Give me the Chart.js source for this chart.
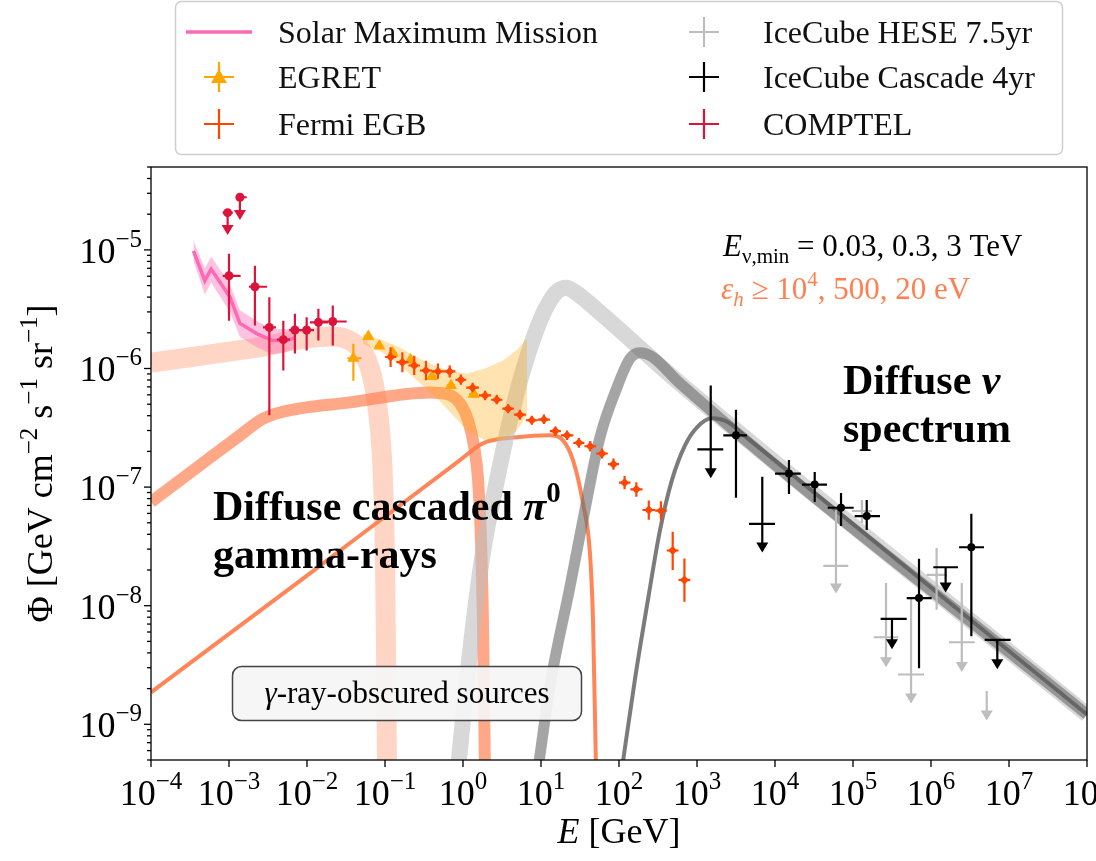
<!DOCTYPE html>
<html>
<head>
<meta charset="utf-8">
<script src="https://cdn.jsdelivr.net/npm/chart.js@4.4.1/dist/chart.umd.min.js"></script>
<style>
  body { margin: 0; background: #fff; }
</style>
</head>
<body>
<canvas id="chart" width="1096" height="861"></canvas>
<script>
// axis ranges + ticks
const xMin = 1e-4, xMax = 1e8, yMin = 5e-10, yMax = 5e-5;
const xTickExps = [-4, -3, -2, -1, 0, 1, 2, 3, 4, 5, 6, 7, 8];
const yTickExps = [-9, -8, -7, -6, -5];

// Solar Maximum Mission (line + band)
const smmE    = [3.5e-4, 4.9e-4, 5.9e-4, 1.03e-3, 1.38e-3, 2.3e-3, 3.6e-3, 5.5e-3, 7.0e-3];
const smmFlux = [9.8e-6, 5.5e-6, 6.9e-6, 4.0e-6, 2.4e-6, 1.96e-6, 1.72e-6, 1.72e-6, 1.82e-6];
const smmHi   = [1.2e-5, 7.0e-6, 8.8e-6, 5.1e-6, 3.1e-6, 2.5e-6, 2.15e-6, 2.15e-6, 2.2e-6];
const smmLo   = [8.1e-6, 4.2e-6, 5.3e-6, 3.0e-6, 1.85e-6, 1.5e-6, 1.32e-6, 1.38e-6, 1.48e-6];

// COMPTEL
const compE      = [9.6e-4, 1.38e-3, 1.0e-3, 2.15e-3, 3.29e-3, 4.97e-3, 7.0e-3, 9.9e-3, 1.40e-2, 2.14e-2];
const compFlux   = [2.06e-5, 2.78e-5, 6.05e-6, 4.89e-6, 2.22e-6, 1.75e-6, 2.11e-6, 2.11e-6, 2.45e-6, 2.49e-6];
const compELo    = [8.3e-4, 1.23e-3, 8.3e-4, 1.8e-3, 2.73e-3, 4.1e-3, 5.9e-3, 8.1e-3, 1.09e-2, 1.33e-2];
const compEHi    = [1.12e-3, 1.69e-3, 1.41e-3, 3.07e-3, 4.0e-3, 6.05e-3, 8.4e-3, 1.23e-2, 1.86e-2, 3.23e-2];
const compFluxLo = [1.36e-5, 1.82e-5, 2.53e-6, 2.30e-6, 4.03e-7, 9.6e-7, 1.34e-6, 1.42e-6, 1.72e-6, 1.56e-6];
const compFluxHi = [2.06e-5, 2.78e-5, 9.3e-6, 7.34e-6, 3.98e-6, 2.53e-6, 2.9e-6, 2.7e-6, 3.19e-6, 3.39e-6];
const compUL     = [1, 1, 0, 0, 0, 0, 0, 0, 0, 0];

// EGRET points + band
const egretE      = [3.93e-2, 6.11e-2, 8.46e-2, 0.126, 0.212, 0.401, 0.702, 1.38];
const egretFlux   = [1.22e-6, 1.86e-6, 1.55e-6, 1.35e-6, 1.18e-6, 8.57e-7, 7.2e-7, 6.08e-7];
const egretELo    = [3.3e-2, 5.4e-2, 7.5e-2, 0.112, 0.19, 0.36, 0.62, 1.2];
const egretEHi    = [5.0e-2, 6.9e-2, 9.5e-2, 0.142, 0.24, 0.45, 0.79, 1.55];
const egretFluxLo = [7.9e-7, 1.75e-6, 1.46e-6, 1.27e-6, 1.11e-6, 8.1e-7, 6.8e-7, 5.7e-7];
const egretFluxHi = [1.62e-6, 1.98e-6, 1.65e-6, 1.44e-6, 1.26e-6, 9.1e-7, 7.6e-7, 6.5e-7];
const egretBandE  = [5.2e-2, 9.42e-2, 0.156, 0.257, 0.464, 0.681, 1.12, 1.91, 3.26, 4.92, 6.62];
const egretBandHi = [1.97e-6, 1.72e-6, 1.50e-6, 1.24e-6, 1.04e-6, 9.62e-7, 9.08e-7, 1.0e-6, 1.17e-6, 1.44e-6, 1.79e-6];
const egretBandLo = [1.62e-6, 1.36e-6, 1.06e-6, 7.92e-7, 5.60e-7, 4.27e-7, 3.01e-7, 2.48e-7, 2.48e-7, 3.01e-7, 4.03e-7];

// Fermi EGB
const fermiE      = [0.118, 0.167, 0.237, 0.335, 0.477, 0.675, 0.94, 1.33, 1.92, 2.71, 3.79, 5.37, 7.63,
                     10.9, 15.3, 21.6, 30.6, 42.8, 60.6, 84.9, 118, 167, 241, 345, 488, 690];
const fermiELo    = [0.1, 0.14, 0.2, 0.28, 0.4, 0.57, 0.8, 1.1, 1.6, 2.3, 3.2, 4.5, 6.4,
                     9.1, 13, 18, 26, 36, 51, 72, 100, 140, 200, 290, 410, 580];
const fermiEHi    = [0.14, 0.2, 0.28, 0.4, 0.57, 0.8, 1.1, 1.6, 2.3, 3.2, 4.5, 6.4, 9.1,
                     13, 18, 26, 36, 51, 72, 100, 140, 200, 290, 410, 580, 820];
const fermiFlux   = [1.25e-6, 1.13e-6, 1.06e-6, 9.62e-7, 9.44e-7, 9.44e-7, 8.04e-7, 6.89e-7, 5.93e-7, 5.45e-7,
                     4.58e-7, 4.08e-7, 3.66e-7, 3.71e-7, 2.97e-7, 2.73e-7, 2.36e-7, 2.21e-7, 1.92e-7, 1.56e-7,
                     1.09e-7, 9.57e-8, 6.41e-8, 6.33e-8, 2.92e-8, 1.65e-8];
const fermiFluxHi = [1.51e-6, 1.37e-6, 1.28e-6, 1.16e-6, 1.10e-6, 1.06e-6, 8.9e-7, 7.6e-7, 6.5e-7, 6.0e-7,
                     5.0e-7, 4.5e-7, 4.0e-7, 4.1e-7, 3.25e-7, 3.0e-7, 2.6e-7, 2.45e-7, 2.12e-7, 1.74e-7,
                     1.24e-7, 1.1e-7, 7.7e-8, 7.6e-8, 4.2e-8, 2.5e-8];
const fermiFluxLo = [1.03e-6, 9.3e-7, 8.8e-7, 7.95e-7, 8.2e-7, 8.4e-7, 7.3e-7, 6.3e-7, 5.4e-7, 5.0e-7,
                     4.2e-7, 3.7e-7, 3.35e-7, 3.4e-7, 2.7e-7, 2.5e-7, 2.15e-7, 2.0e-7, 1.74e-7, 1.40e-7,
                     9.6e-8, 8.3e-8, 5.3e-8, 5.3e-8, 2.0e-8, 1.08e-8];

// IceCube Cascade 4yr
const cascE      = [1.50e3, 3.16e3, 6.87e3, 1.51e4, 3.23e4, 7.02e4, 1.50e5, 3.16e5, 7.02e5, 1.54e6, 3.29e6, 7.08e6];
const cascELo    = [1.01e3, 2.17e3, 4.64e3, 1.0e4, 2.22e4, 4.74e4, 1.05e5, 2.26e5, 4.88e5, 1.07e6, 2.29e6, 4.88e6];
const cascEHi    = [2.17e3, 4.38e3, 1.0e4, 2.14e4, 4.64e4, 1.02e5, 2.22e5, 4.88e5, 1.02e6, 2.22e6, 4.78e6, 1.05e7];
const cascFlux   = [2.08e-7, 2.73e-7, 4.89e-8, 1.30e-7, 1.05e-7, 6.70e-8, 5.70e-8, 7.73e-9, 1.16e-8, 2.11e-8, 3.11e-8, 5.15e-9];
const cascFluxHi = [7.2e-7, 4.50e-7, 1.22e-7, 1.69e-7, 1.34e-7, 8.91e-8, 7.78e-8, 7.73e-9, 2.49e-8, 2.11e-8, 5.97e-8, 5.15e-9];
const cascFluxLo = [1.21e-7, 8.13e-8, 2.86e-8, 8.73e-8, 7.48e-8, 4.70e-8, 4.35e-8, 4.38e-9, 2.97e-9, 1.32e-8, 5.52e-9, 2.97e-9];
const cascUL     = [1, 0, 1, 0, 0, 0, 0, 1, 0, 1, 0, 1];

// IceCube HESE 7.5yr
const heseE      = [6.05e4, 1.30e5, 2.65e5, 5.55e5, 1.18e6, 2.48e6, 5.18e6];
const heseELo    = [4.16e4, 9.7e4, 1.84e5, 3.78e5, 8.8e5, 1.70e6, 5.18e6];
const heseEHi    = [8.7e4, 1.75e5, 3.81e5, 8.13e5, 1.59e6, 3.63e6, 5.18e6];
const heseFlux   = [2.17e-8, 6.29e-8, 5.42e-9, 2.63e-9, 1.82e-8, 4.92e-9, 1.91e-9];
const heseFluxHi = [6.41e-8, 7.78e-8, 1.55e-8, 1.16e-8, 3.07e-8, 1.55e-8, 1.91e-9];
const heseFluxLo = [1.29e-8, 4.98e-8, 3.09e-9, 1.53e-9, 9.25e-9, 2.81e-9, 1.10e-9];
const heseUL     = [1, 0, 1, 1, 0, 1, 1];

// cascaded gamma-ray models (eps_h >= 1e4, 500, 20 eV)
const gammaAE    = [1e-4, 1.86e-3, 1.97e-2, 3.07e-2, 4.5e-2, 6.05e-2, 7.44e-2, 8.63e-2, 9.42e-2, 0.1, 0.103, 0.106];
const gammaAFlux = [1.12e-6, 1.47e-6, 1.86e-6, 1.79e-6, 1.53e-6, 1.12e-6, 6.53e-7, 3.01e-7, 1.15e-7, 2.44e-8, 4.27e-9, 4.19e-10];
const gammaBE    = [1e-4, 4.25e-4, 1.38e-3, 2.65e-3, 4.51e-3, 3.56e-2, 0.377, 0.643, 0.916, 1.16, 1.38, 1.56, 1.70, 1.80, 1.91];
const gammaBFlux = [7.48e-8, 1.53e-7, 2.73e-7, 3.73e-7, 4.26e-7, 5.18e-7, 6.28e-7, 6.05e-7, 5.08e-7, 3.66e-7, 2.25e-7, 1.15e-7, 3.59e-8, 7.62e-9, 4.19e-10];
const gammaCE    = [1e-4, 8.13e-3, 0.916, 1.80, 4.92, 13.0, 19.1, 25.7, 34.5, 42.4, 46.4, 50.7];
const gammaCFlux = [1.86e-9, 1.62e-8, 1.69e-7, 2.34e-7, 2.63e-7, 2.73e-7, 2.48e-7, 1.69e-7, 7.34e-8, 2.79e-8, 7.62e-9, 4.19e-10];

// neutrino models (E_nu,min = 0.03, 0.3, 3 TeV)
const nuAE    = [0.863, 1.23, 1.80, 2.73, 4.01, 5.88, 9.71, 13.0, 16.5, 20.9, 28.1, 57.1, 605, 1e8];
const nuAFlux = [4.19e-10, 4.03e-9, 2.79e-8, 1.15e-7, 3.66e-7, 9.62e-7, 2.53e-6, 3.72e-6, 4.52e-6, 4.80e-6, 4.35e-6, 2.96e-6, 7.48e-7, 1.21e-9];
const nuBE    = [9.17, 13.0, 23.5, 34.5, 57.0, 94.2, 138, 186, 265, 605, 1e8];
const nuBFlux = [4.19e-10, 2.09e-9, 1.44e-8, 5.28e-8, 2.63e-7, 6.92e-7, 1.21e-6, 1.36e-6, 1.26e-6, 7.48e-7, 1.21e-9];
const nuCE    = [109, 160, 235, 336, 478, 702, 1.0e3, 1.56e3, 2.5e3, 4.12e3, 1e8];
const nuCFlux = [4.19e-10, 2.39e-9, 1.12e-8, 4.35e-8, 1.15e-7, 2.25e-7, 3.19e-7, 3.80e-7, 3.52e-7, 2.69e-7, 1.21e-9];

const SERIF = '"Liberation Serif", "DejaVu Serif", serif';
const CORAL = '255,127,80';

function pts(xs, ys) {
  return xs.map((v, i) => ({ x: v, y: ys[i] }));
}

function curve(xs, ys, color, width, order) {
  return {
    type: 'line', data: pts(xs, ys), borderColor: color, borderWidth: width,
    pointRadius: 0, fill: false, cubicInterpolationMode: 'monotone', order: order
  };
}

// hideUL: no marker on upper-limit entries
function points(xs, ys, color, style, radius, err, order, hideUL) {
  return {
    type: 'scatter', data: pts(xs, ys), pointStyle: style,
    pointRadius: c => (hideUL && err.ul && err.ul[c.dataIndex]) ? 0 : radius,
    backgroundColor: color, borderColor: color, borderWidth: 0,
    err: err, errColor: color, order: order
  };
}

const datasets = [
  curve(gammaAE, gammaAFlux, 'rgba(' + CORAL + ',0.33)', 20, 20),
  curve(gammaBE, gammaBFlux, 'rgba(' + CORAL + ',0.68)', 12, 19),
  curve(gammaCE, gammaCFlux, 'rgba(' + CORAL + ',0.95)', 4, 18),
  curve(nuAE, nuAFlux, 'rgba(190,190,190,0.6)', 16, 17),
  curve(nuBE, nuBFlux, 'rgba(110,110,110,0.62)', 11, 16),
  curve(nuCE, nuCFlux, 'rgba(90,90,90,0.8)', 4, 15),
  // EGRET band
  { type: 'line', data: pts(egretBandE, egretBandHi), borderColor: 'transparent', pointRadius: 0, fill: false, order: 14 },
  { type: 'line', data: pts(egretBandE, egretBandLo), borderColor: 'transparent', pointRadius: 0,
    fill: '-1', backgroundColor: 'rgba(255,165,0,0.3)', order: 14 },
  // SMM band + line
  { type: 'line', data: pts(smmE, smmHi), borderColor: 'transparent', pointRadius: 0, fill: false, order: 13 },
  { type: 'line', data: pts(smmE, smmLo), borderColor: 'transparent', pointRadius: 0,
    fill: '-1', backgroundColor: 'rgba(255,105,180,0.4)', order: 13 },
  { type: 'line', data: pts(smmE, smmFlux), borderColor: '#ff69b4', borderWidth: 3.5, pointRadius: 0, fill: false, order: 12 },
  points(heseE, heseFlux, '#bdbdbd', 'circle', 0,
    { xLo: heseELo, xHi: heseEHi, yLo: heseFluxLo, yHi: heseFluxHi, ul: heseUL }, 6, true),
  points(compE, compFlux, '#dc143c', 'circle', 4.5,
    { xLo: compELo, xHi: compEHi, yLo: compFluxLo, yHi: compFluxHi, ul: compUL }, 5, false),
  points(egretE, egretFlux, '#ffa500', 'triangle', 7,
    { xLo: egretELo, xHi: egretEHi, yLo: egretFluxLo, yHi: egretFluxHi }, 4, true),
  points(fermiE, fermiFlux, '#ff4500', 'rectRot', 4.5,
    { xLo: fermiELo, xHi: fermiEHi, yLo: fermiFluxLo, yHi: fermiFluxHi }, 3, true),
  points(cascE, cascFlux, '#000000', 'circle', 4,
    { xLo: cascELo, xHi: cascEHi, yLo: cascFluxLo, yHi: cascFluxHi, ul: cascUL }, 1, true)
];

// error bars + upper-limit arrows, drawn under each dataset's markers
const errorBars = {
  id: 'errorBars',
  beforeDatasetDraw(chart, args) {
    const ds = chart.data.datasets[args.index];
    if (!ds.err) return;
    const { ctx, chartArea: a, scales: { x, y } } = chart;
    const e = ds.err;
    ctx.save();
    ctx.beginPath();
    ctx.rect(a.left, a.top, a.right - a.left, a.bottom - a.top);
    ctx.clip();
    ctx.strokeStyle = ds.errColor;
    ctx.fillStyle = ds.errColor;
    ctx.lineWidth = 2.2;
    ds.data.forEach((p, i) => {
      const px = x.getPixelForValue(p.x), py = y.getPixelForValue(p.y);
      const x0 = x.getPixelForValue(e.xLo[i]), x1 = x.getPixelForValue(e.xHi[i]);
      const yb = y.getPixelForValue(e.yLo[i]), yt = y.getPixelForValue(e.yHi[i]);
      const ul = e.ul && e.ul[i];
      ctx.beginPath();
      if (x1 - x0 > 1) { ctx.moveTo(x0, py); ctx.lineTo(x1, py); }
      ctx.moveTo(px, yt);
      ctx.lineTo(px, ul ? yb - 6 : yb);
      ctx.stroke();
      if (ul) {
        ctx.beginPath();
        ctx.moveTo(px - 6, yb - 9);
        ctx.lineTo(px + 6, yb - 9);
        ctx.lineTo(px, yb + 1);
        ctx.closePath();
        ctx.fill();
      }
    });
    ctx.restore();
  }
};

// text made of pieces: [text, font, dy]
function rich(ctx, segs, x, y, align) {
  let w = 0;
  segs.forEach(s => { ctx.font = s[1]; w += ctx.measureText(s[0]).width; });
  let cx = align === 'center' ? x - w / 2 : align === 'right' ? x - w : x;
  ctx.textAlign = 'left';
  ctx.textBaseline = 'alphabetic';
  segs.forEach(s => {
    ctx.font = s[1];
    ctx.fillText(s[0], cx, y + (s[2] || 0));
    cx += ctx.measureText(s[0]).width;
  });
  return w;
}

function expLabel(e) {
  return e < 0 ? '\u2212' + (-e) : String(e);
}

function roundRect(ctx, x, y, w, h, r) {
  ctx.beginPath();
  ctx.moveTo(x + r, y);
  ctx.arcTo(x + w, y, x + w, y + h, r);
  ctx.arcTo(x + w, y + h, x, y + h, r);
  ctx.arcTo(x, y + h, x, y, r);
  ctx.arcTo(x, y, x + w, y, r);
  ctx.closePath();
}

const frame = {
  id: 'frame',
  afterDraw(chart) {
    const { ctx, chartArea: a, scales: { x, y } } = chart;
    const big = '36px ' + SERIF, sup = '25px ' + SERIF;
    ctx.save();
    ctx.fillStyle = '#000';
    ctx.strokeStyle = '#000';
    ctx.lineWidth = 1.3;
    ctx.strokeRect(a.left, a.top, a.right - a.left, a.bottom - a.top);

    // x ticks
    xTickExps.forEach(e => {
      const px = x.getPixelForValue(Math.pow(10, e));
      ctx.beginPath(); ctx.moveTo(px, a.bottom); ctx.lineTo(px, a.bottom + 7); ctx.stroke();
      rich(ctx, [['10', big], [expLabel(e), sup, -16]], px, a.bottom + 45, 'center');
    });
    // y ticks (major + minor)
    for (let d = -10; d <= -5; d++) {
      for (let k = 1; k <= 9; k++) {
        const v = k * Math.pow(10, d);
        if (v < yMin || v > yMax) continue;
        const py = y.getPixelForValue(v);
        ctx.beginPath(); ctx.moveTo(a.left, py); ctx.lineTo(a.left - (k === 1 ? 7 : 4), py); ctx.stroke();
      }
    }
    yTickExps.forEach(e => {
      const py = y.getPixelForValue(Math.pow(10, e));
      rich(ctx, [['10', big], [expLabel(e), sup, -16]], a.left - 9, py + 13, 'right');
    });

    // axis titles
    rich(ctx, [['E', 'italic ' + big], [' [GeV]', big]], (a.left + a.right) / 2, 843, 'center');
    ctx.translate(52, (a.top + a.bottom) / 2);
    ctx.rotate(-Math.PI / 2);
    rich(ctx, [['\u03a6 [GeV cm', big], ['\u22122', sup, -15], [' s', big], ['\u22121', sup, -15],
               [' sr', big], ['\u22121', sup, -15], [']', big]], 0, 0, 'center');
    ctx.restore();

    // annotations
    ctx.save();
    ctx.fillStyle = '#000';
    const mid = '31px ' + SERIF, small = '21px ' + SERIF;
    rich(ctx, [['E', 'italic ' + mid], ['\u03bd,min', small, 7], [' = 0.03, 0.3, 3 TeV', mid]], 723, 256, 'left');
    ctx.fillStyle = 'rgb(' + CORAL + ')';
    rich(ctx, [['\u03b5', 'italic ' + mid], ['h', 'italic ' + small, 7], [' \u2265 10', mid], ['4', small, -13],
               [', 500, 20 eV', mid]], 721, 299, 'left');
    ctx.fillStyle = '#000';
    const bold = 'bold 42px ' + SERIF;
    rich(ctx, [['Diffuse cascaded ', bold], ['\u03c0', 'italic ' + bold], ['0', 'bold 29px ' + SERIF, -18]], 213, 520, 'left');
    rich(ctx, [['gamma-rays', bold]], 213, 568, 'left');
    rich(ctx, [['Diffuse ', bold], ['\u03bd', 'italic ' + bold]], 843, 394, 'left');
    rich(ctx, [['spectrum', bold]], 843, 442, 'left');

    // obscured-sources box
    roundRect(ctx, 232.5, 666.5, 349, 54, 9);
    ctx.fillStyle = 'rgba(245,245,245,0.92)';
    ctx.fill();
    ctx.strokeStyle = '#444';
    ctx.lineWidth = 1.5;
    ctx.stroke();
    ctx.fillStyle = '#000';
    rich(ctx, [['\u03b3', 'italic ' + mid], ['-ray-obscured sources', mid]], 407, 703, 'center');
    ctx.restore();

    // legend
    ctx.save();
    roundRect(ctx, 175.5, 1.5, 887, 153, 6);
    ctx.fillStyle = '#fff';
    ctx.fill();
    ctx.strokeStyle = '#cfcfcf';
    ctx.lineWidth = 1.5;
    ctx.stroke();
    const items = [
      { label: 'Solar Maximum Mission', color: '#ff69b4', kind: 'line', cx: 219, tx: 278, ty: 32 },
      { label: 'EGRET', color: '#ffa500', kind: 'triangle', cx: 219, tx: 278, ty: 77 },
      { label: 'Fermi EGB', color: '#ff4500', kind: 'cross', cx: 219, tx: 278, ty: 124 },
      { label: 'IceCube HESE 7.5yr', color: '#bdbdbd', kind: 'cross', cx: 704, tx: 763, ty: 32 },
      { label: 'IceCube Cascade 4yr', color: '#000000', kind: 'cross', cx: 704, tx: 763, ty: 77 },
      { label: 'COMPTEL', color: '#dc143c', kind: 'cross', cx: 704, tx: 763, ty: 124 }
    ];
    const legFont = '32px ' + SERIF;
    items.forEach(it => {
      ctx.strokeStyle = it.color;
      ctx.fillStyle = it.color;
      if (it.kind === 'line') {
        ctx.lineWidth = 3.5;
        ctx.beginPath(); ctx.moveTo(it.cx - 33, it.ty); ctx.lineTo(it.cx + 33, it.ty); ctx.stroke();
      } else {
        ctx.lineWidth = 2.2;
        ctx.beginPath();
        ctx.moveTo(it.cx - 15, it.ty); ctx.lineTo(it.cx + 15, it.ty);
        ctx.moveTo(it.cx, it.ty - 15); ctx.lineTo(it.cx, it.ty + 15);
        ctx.stroke();
        if (it.kind === 'triangle') {
          ctx.beginPath();
          ctx.moveTo(it.cx, it.ty - 8); ctx.lineTo(it.cx + 8, it.ty + 6); ctx.lineTo(it.cx - 8, it.ty + 6);
          ctx.closePath(); ctx.fill();
        }
      }
      ctx.fillStyle = '#111';
      rich(ctx, [[it.label, legFont]], it.tx, it.ty + 11, 'left');
    });
    ctx.restore();
  }
};

new Chart(document.getElementById('chart').getContext('2d'), {
  type: 'scatter',
  data: { datasets: datasets },
  options: {
    responsive: false,
    animation: false,
    layout: { padding: { top: 167, right: 9, left: 0, bottom: 0 } },
    plugins: { legend: { display: false }, tooltip: { enabled: false } },
    scales: {
      x: {
        type: 'logarithmic', min: xMin, max: xMax,
        grid: { display: false }, border: { display: false }, ticks: { display: false },
        afterFit: s => { s.height = 101; }
      },
      y: {
        type: 'logarithmic', min: yMin, max: yMax,
        grid: { display: false }, border: { display: false }, ticks: { display: false },
        afterFit: s => { s.width = 151; }
      }
    }
  },
  plugins: [errorBars, frame]
});
</script>
</body>
</html>
